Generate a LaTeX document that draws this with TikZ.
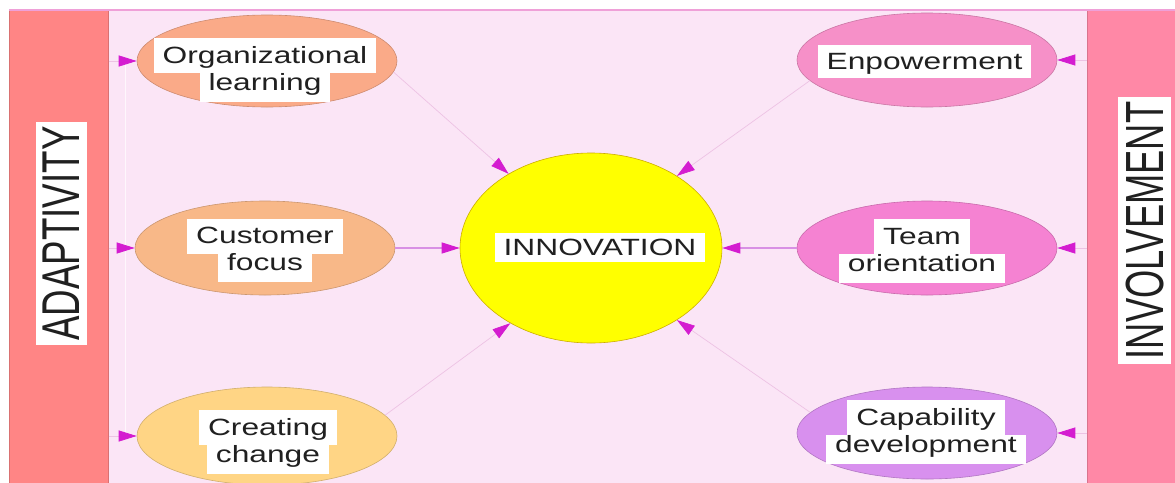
\documentclass[tikz,border=0pt]{standalone}
\usepackage{fontspec}
\setmainfont{Liberation Sans}
\usepackage{graphicx}
\usetikzlibrary{arrows.meta,shapes.geometric}
\definecolor{bgpink}{HTML}{FBE5F6}
\definecolor{topline}{HTML}{EFA0D8}
\definecolor{leftbar}{HTML}{FF8585}
\definecolor{rightbar}{HTML}{FF88A6}
\definecolor{olcol}{HTML}{FAAA88}
\definecolor{cfcol}{HTML}{F8B888}
\definecolor{cccol}{HTML}{FFD585}
\definecolor{encol}{HTML}{F690C8}
\definecolor{tocol}{HTML}{F582D2}
\definecolor{cdcol}{HTML}{D890EE}
\definecolor{inncol}{HTML}{FFFF00}
\definecolor{tipcol}{HTML}{D41CD0}
\definecolor{faintln}{HTML}{EDC2E4}
\definecolor{hline}{HTML}{D890E4}
\definecolor{txt}{HTML}{202020}
\newcommand\lnA[1]{{\setlength{\fboxsep}{0pt}\colorbox{white}{\hspace{9pt}\scalebox{1.35}[1]{#1}\rule[-10pt]{0pt}{35pt}\hspace{9pt}}}}
\newcommand\lnB[1]{{\setlength{\fboxsep}{0pt}\colorbox{white}{\hspace{9pt}\scalebox{1.35}[1]{#1}\rule[-11pt]{0pt}{28pt}\hspace{9pt}}}}
\newcommand\lnC[1]{{\setlength{\fboxsep}{0pt}\colorbox{white}{\hspace{9pt}\scalebox{1.35}[1]{#1}\rule[-9pt]{0pt}{33pt}\hspace{9pt}}}}
\newcommand\lnI[1]{{\setlength{\fboxsep}{0pt}\colorbox{white}{\hspace{9pt}\scalebox{1.35}[1]{#1}\rule[-7pt]{0pt}{29pt}\hspace{9pt}}}}
\newcommand\twoln[2]{{\renewcommand\arraystretch{0}\begin{tabular}{@{}c@{}}\lnA{#1}\\\lnB{#2}\end{tabular}}}
\begin{document}
\begin{tikzpicture}[x=1pt,y=-1pt,
  font=\fontsize{23.5}{28}\selectfont,
  conc/.style={ellipse, minimum width=260pt, minimum height=93pt, inner sep=0pt, draw=#1!82!black, fill=#1, line width=0.6pt},
  lbl/.style={inner sep=0pt, text=txt},
  bar/.style={rectangle, inner sep=0pt, anchor=north west, fill=#1, draw=#1!85!black, line width=0.6pt},
  tipA/.style={-{Triangle[length=18pt,width=11pt,color=tipcol]}},
  diag/.style={tipA, draw=faintln, line width=0.7pt},
  harrow/.style={tipA, draw=hline, line width=1.1pt},
  sidearrow/.style={tipA, draw=faintln, line width=0.8pt},
  sidelbl/.style={fill=white, inner xsep=7.5pt, inner ysep=4.5pt, text=txt}
]
\useasboundingbox (0,0) rectangle (1175,482);
\fill[white] (0,0) rectangle (1175,482);
% background
\fill[bgpink] (108,10) rectangle (1087,490);
% side bars
\node[bar=leftbar, minimum width=99pt, minimum height=480pt] (lbar) at (9,10) {};
\node[bar=rightbar, minimum width=100pt, minimum height=480pt] (rbar) at (1087,10) {};
\draw[topline, line width=1.6pt] (9,10) -- (1175,10);
\node[sidelbl] (adl) at (61.5,233.5) {\rotatebox{90}{\fontsize{36.7}{40}\selectfont\scalebox{1}[1.45]{ADAPTIVITY}}};
\node[sidelbl] (inl) at (1144.5,230.5) {\rotatebox{90}{\fontsize{36.3}{40}\selectfont\scalebox{1}[1.48]{INVOLVEMENT}}};
% concept ellipses
\node[conc=olcol, minimum height=92pt] (ol) at (267,61) {};
\node[conc=cfcol, minimum height=94pt] (cf) at (265,248) {};
\node[conc=cccol, minimum height=98pt] (cc) at (267,436) {};
\node[conc=encol, minimum height=94pt] (en) at (927,60) {};
\node[conc=tocol, minimum height=94pt] (to) at (927,248) {};
\node[conc=cdcol, minimum height=92pt] (cd) at (927,433) {};
\node[ellipse, minimum width=262pt, minimum height=190pt, inner sep=0pt, fill=inncol, draw=inncol!70!orange!80!black, line width=0.6pt] (inn) at (591,248) {};
% faint vertical line
\draw[white!70!bgpink, line width=1pt] ([xshift=17pt]lbar.east |- ol.west) -- ([xshift=17pt]lbar.east |- cc.west);
% connectors
\draw[sidearrow] (lbar.east |- ol.west) -- (ol.west);
\draw[sidearrow] (lbar.east |- cf.west) -- (cf.west);
\draw[sidearrow] (lbar.east |- cc.west) -- (cc.west);
\draw[sidearrow] (rbar.west |- en.east) -- (en.east);
\draw[sidearrow] (rbar.west |- to.east) -- (to.east);
\draw[sidearrow] (rbar.west |- cd.east) -- (cd.east);
\draw[diag] (ol.-5) -- (inn.138);
\draw[diag] (en.190) -- (inn.40);
\draw[diag] (cc.10) -- (inn.223);
\draw[diag] (cd.170) -- (inn.-40);
\draw[harrow] (cf.east) -- (inn.west);
\draw[harrow] (to.west) -- (inn.east);
% labels
\node[lbl] (olt) at (265,70) {\twoln{Organizational}{learning}};
\node[lbl] (cft) at (265,250) {\twoln{Customer}{focus}};
\node[lbl] (cct) at (268,442) {\twoln{Creating}{change}};
\node[lbl] (ent) at (924.5,61.5) {\lnC{Enpowerment}};
\node[lbl] (tot) at (922,251) {\twoln{Team}{orientation}};
\node[lbl] (cdt) at (926,432) {\twoln{Capability}{development}};
\node[lbl] (innt) at (600,247.5) {\lnI{INNOVATION}};
\end{tikzpicture}
\end{document}
